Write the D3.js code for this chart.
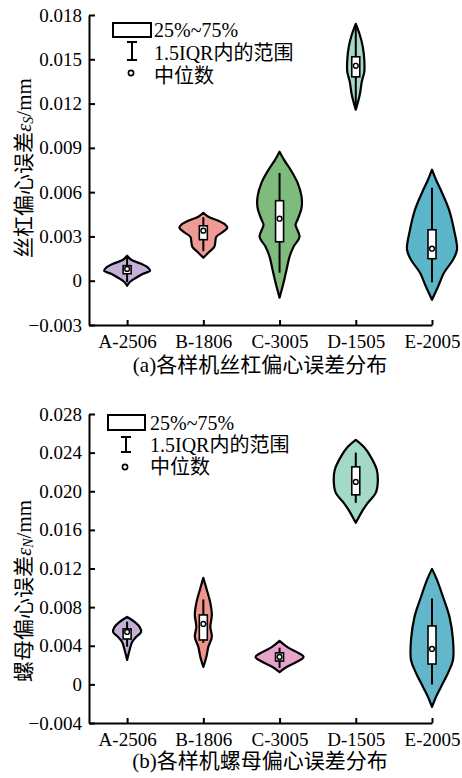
<!DOCTYPE html>
<html>
<head>
<meta charset="utf-8">
<script src="https://cdn.jsdelivr.net/npm/d3@7"></script>
<style>
	body {margin: 0; background: #fff;}
	svg text {font-family: "Liberation Serif", "Times New Roman", "Noto Sans CJK SC", serif; fill: #000;}
	.axis path, .axis line {stroke: #000; stroke-width: 2;}
</style>
</head>
<body>
<div id="chart"></div>
<script>
//Categories (sample machines)
var cats = ["A-2506", "B-1806", "C-3005", "D-1505", "E-2005"];

//(a) screw eccentricity error: violin outlines (value, relative density)
var topV = [
	[0.00169, 0.00142, 0.00115, 0.00088, 0.00068, 0.00047, 0.00020, -0.00007, -0.00034],
	[0.0046, 0.00433, 0.00406, 0.00379, 0.00359, 0.00332, 0.00298, 0.00264, 0.0023, 0.00196, 0.00156],
	[0.00874, 0.00819, 0.00752, 0.00664, 0.00569, 0.00494, 0.00413, 0.00379, 0.00298, 0.0023, 0.00163, 0.00074, -0.00014, -0.00115],
	[0.0174, 0.01666, 0.01585, 0.01497, 0.01415, 0.01348, 0.0126, 0.01158],
	[0.00752, 0.00684, 0.00596, 0.00481, 0.00345, 0.0021, 0.00142, 0.00054, -0.00041, -0.00129]
];
var topD = [
	[0, 0.16, 0.56, 0.84, 0.92, 0.64, 0.36, 0.12, 0],
	[0, 0.2, 0.6, 0.88, 0.96, 0.8, 0.52, 0.48, 0.44, 0.24, 0],
	[0, 0.18, 0.44, 0.72, 0.88, 0.88, 0.72, 0.64, 0.8, 0.56, 0.4, 0.28, 0.16, 0],
	[0, 0.16, 0.28, 0.34, 0.34, 0.24, 0.16, 0],
	[0, 0.16, 0.4, 0.68, 0.88, 1.0, 0.84, 0.48, 0.24, 0]
];
var topQ1 = [0.00047, 0.00278, 0.00264, 0.01381, 0.00149];
var topQ3 = [0.00102, 0.00372, 0.00542, 0.01517, 0.00345];
var topMed = [0.0008, 0.00339, 0.0042, 0.01456, 0.00217];
var topLo = [-0.0001, 0.0020, 0.00054, 0.0117, -0.0001];
var topHi = [0.0016, 0.0043, 0.0073, 0.0173, 0.0063];
var topTicks = [-0.003, 0, 0.003, 0.006, 0.009, 0.012, 0.015, 0.018];
var topColors = ["#c5b0d8", "#ee9b95", "#80bb7e", "#a6d8c9", "#5cb6c9"];

//(b) nut eccentricity error
var botV = [
	[0.00698, 0.00647, 0.00595, 0.00543, 0.00491, 0.00439, 0.00356, 0.00253],
	[0.01103, 0.00978, 0.00844, 0.00719, 0.00595, 0.00491, 0.00388, 0.00284, 0.0018],
	[0.0045, 0.00388, 0.00336, 0.00284, 0.00232, 0.0018, 0.00128],
	[0.02533, 0.0246, 0.02356, 0.02222, 0.02097, 0.01983, 0.0188, 0.01787, 0.01673],
	[0.01196, 0.01082, 0.00906, 0.00699, 0.0046, 0.00253, 0.00118, -0.00026, -0.0013, -0.00234]
];
var botD = [
	[0, 0.3, 0.5, 0.56, 0.36, 0.2, 0.1, 0],
	[0, 0.14, 0.28, 0.34, 0.28, 0.34, 0.2, 0.12, 0],
	[0, 0.3, 0.67, 0.96, 0.68, 0.28, 0],
	[0, 0.32, 0.6, 0.84, 0.88, 0.8, 0.48, 0.24, 0],
	[0, 0.2, 0.44, 0.7, 0.84, 0.84, 0.64, 0.36, 0.16, 0]
];
var botQ1 = [0.0047, 0.0046, 0.00242, 0.01963, 0.00211];
var botQ3 = [0.00574, 0.00719, 0.00326, 0.02253, 0.00605];
var botMed = [0.00543, 0.00626, 0.00284, 0.02097, 0.00367];
var botLo = [0.0039, 0.0043, 0.0017, 0.0188, 0.0];
var botHi = [0.0065, 0.0088, 0.0038, 0.024, 0.0089];
var botTicks = [-0.004, 0, 0.004, 0.008, 0.012, 0.016, 0.020, 0.024, 0.028];
var botColors = ["#c5b0d8", "#ef9590", "#e8a3c9", "#a3d9c8", "#62b7ca"];

var legendTexts = ["25%~75%", "1.5IQR内的范围", "中位数"];

var W = 462, H = 778;
var svg = d3.select("#chart").append("svg")
	.attr("width", W)
	.attr("height", H);

//x positions shared by both panels
var x = d3.scaleLinear().domain([0.5, 5]).range([89, 432]);
var w = d3.scaleLinear().domain([0, 1]).range([0, 25]);

drawPanel({
	V: topV, D: topD, q1: topQ1, q3: topQ3, med: topMed, lo: topLo, hi: topHi,
	ticks: topTicks, colors: topColors, fmt: d3.format(".3f"),
	yRange: [325, 15], title: "(a)各样机丝杠偏心误差分布", titleY: 372,
	label: ["丝杠偏心误差", "S"], labelY: 168,
	legend: {rx: 113, ry: 23, rw: 38, rh: 14, wx: 132, w0: 42, w1: 60, cy: 73, tx: 154, base: [37, 60, 83]}
});
drawPanel({
	V: botV, D: botD, q1: botQ1, q3: botQ3, med: botMed, lo: botLo, hi: botHi,
	ticks: botTicks, colors: botColors, fmt: d3.format(".3f"),
	yRange: [723, 414], title: "(b)各样机螺母偏心误差分布", titleY: 768,
	label: ["螺母偏心误差", "N"], labelY: 591,
	legend: {rx: 108, ry: 415, rw: 37, rh: 15, wx: 126, w0: 437, w1: 452, cy: 467, tx: 150, base: [430, 452, 474]}
});

function drawPanel(p) {
	var y = d3.scaleLinear()
		.domain([p.ticks[0], p.ticks[p.ticks.length - 1]])
		.range(p.yRange);
	var g = svg.append("g");

	//violins
	cats.forEach(function(c, i) {
		var cx = x(i + 1);
		var pts = p.V[i].map(function(v, j) {return {v: v, d: p.D[i][j]};});
		var area = d3.area()
			.curve(d3.curveCatmullRom.alpha(0.5))
			.y(function(d) {return y(d.v);})
			.x0(function(d) {return cx - w(d.d);})
			.x1(function(d) {return cx + w(d.d);});
		g.append("path")
			.attr("d", area(pts))
			.attr("fill", p.colors[i])
			.attr("stroke", "#000")
			.attr("stroke-width", 2.2)
			.attr("stroke-linejoin", "round");
		//whisker
		g.append("line")
			.attr("x1", cx).attr("x2", cx)
			.attr("y1", y(p.lo[i])).attr("y2", y(p.hi[i]))
			.attr("stroke", "#000")
			.attr("stroke-width", 2);
		//box
		g.append("rect")
			.attr("x", cx - 4)
			.attr("width", 8)
			.attr("y", y(p.q3[i]))
			.attr("height", y(p.q1[i]) - y(p.q3[i]))
			.attr("fill", "#fff")
			.attr("stroke", "#000")
			.attr("stroke-width", 1.6);
		//median
		g.append("circle")
			.attr("cx", cx)
			.attr("cy", y(p.med[i]))
			.attr("r", 2.4)
			.attr("fill", "#fff")
			.attr("stroke", "#000")
			.attr("stroke-width", 1.4);
	});

	//axes
	var yAxis = d3.axisLeft(y)
		.tickValues(p.ticks)
		.tickSize(-6)
		.tickSizeOuter(0)
		.tickPadding(7)
		.tickFormat(function(d) {return d === 0 ? "0" : p.fmt(d);});
	g.append("g")
		.attr("class", "axis")
		.attr("transform", "translate(" + x.range()[0] + ",0)")
		.call(yAxis)
		.selectAll("text")
			.style("font-size", "19px");

	var xAxis = d3.axisBottom(x)
		.tickValues([1, 2, 3, 4, 5])
		.tickSize(-5)
		.tickSizeOuter(0)
		.tickPadding(10)
		.tickFormat(function(d) {return cats[d - 1];});
	g.append("g")
		.attr("class", "axis")
		.attr("transform", "translate(0," + p.yRange[0] + ")")
		.call(xAxis)
		.selectAll("text")
			.style("font-size", "19px");

	//title
	g.append("text")
		.attr("x", 260)
		.attr("y", p.titleY)
		.attr("text-anchor", "middle")
		.style("font-size", "21px")
		.text(p.title);

	//y label
	var lab = g.append("text")
		.attr("transform", "translate(24," + p.labelY + ") rotate(-90)")
		.attr("text-anchor", "middle")
		.attr("dominant-baseline", "central")
		.style("font-size", "21px");
	lab.append("tspan").text(p.label[0]);
	lab.append("tspan").style("font-style", "italic").text("ε");
	lab.append("tspan").style("font-style", "italic").style("font-size", "14px")
		.attr("dy", "4").text(p.label[1]);
	lab.append("tspan").attr("dy", "-4").text("/mm");

	//legend
	var L = p.legend;
	g.append("rect")
		.attr("x", L.rx).attr("y", L.ry)
		.attr("width", L.rw).attr("height", L.rh)
		.attr("fill", "#fff").attr("stroke", "#000").attr("stroke-width", 2);
	g.append("path")
		.attr("d", "M" + (L.wx - 5) + "," + L.w0 + "H" + (L.wx + 5) +
			"M" + L.wx + "," + L.w0 + "V" + L.w1 +
			"M" + (L.wx - 5) + "," + L.w1 + "H" + (L.wx + 5))
		.attr("stroke", "#000").attr("stroke-width", 2).attr("fill", "none");
	g.append("circle")
		.attr("cx", L.wx - 1).attr("cy", L.cy).attr("r", 2.6)
		.attr("fill", "#fff").attr("stroke", "#000").attr("stroke-width", 1.6);
	legendTexts.forEach(function(t, k) {
		g.append("text")
			.attr("x", L.tx)
			.attr("y", L.base[k])
			.style("font-size", "20px")
			.text(t);
	});
}
</script>
</body>
</html>
